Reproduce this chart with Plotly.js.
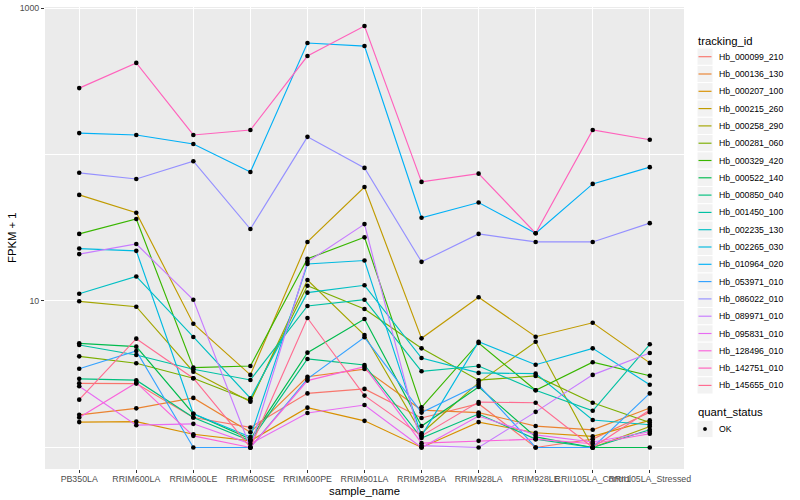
<!DOCTYPE html>
<html>
<head>
<meta charset="utf-8">
<script src="https://cdn.plot.ly/plotly-3.0.1.min.js"></script>
<style>html,body{margin:0;padding:0;background:#fff;}#chart{width:800px;height:500px;}</style>
</head>
<body>
<div id="chart"></div>
<script>
// ---- data (FPKM + 1) ----
const sampleNames = ['PB350LA', 'RRIM600LA', 'RRIM600LE', 'RRIM600SE', 'RRIM600PE', 'RRIM901LA',
  'RRIM928BA', 'RRIM928LA', 'RRIM928LE', 'RRII105LA_Control', 'RRII105LA_Stressed'];

const trackingIds = ['Hb_000099_210', 'Hb_000136_130', 'Hb_000207_100', 'Hb_000215_260', 'Hb_000258_290',
  'Hb_000281_060', 'Hb_000329_420', 'Hb_000522_140', 'Hb_000850_040', 'Hb_001450_100', 'Hb_002235_130',
  'Hb_002265_030', 'Hb_010964_020', 'Hb_053971_010', 'Hb_086022_010', 'Hb_089971_010', 'Hb_095831_010',
  'Hb_128496_010', 'Hb_142751_010', 'Hb_145655_010'];

const Hb_000099_210 = [2.74, 2.73, 1.60, 1.37, 2.34, 2.51, 1.59, 1.99, 1.00, 1.14, 1.74];
const Hb_000136_130 = [1.67, 1.85, 2.18, 1.27, 3.04, 3.43, 1.80, 1.73, 1.40, 1.32, 1.86];
const Hb_000207_100 = [1.49, 1.50, 1.23, 1.11, 1.87, 1.52, 1.00, 1.49, 1.26, 1.19, 1.53];
const Hb_000215_260 = [53, 40, 7.0, 3.13, 25.3, 60, 5.56, 10.6, 5.7, 7.1, 3.78];
const Hb_000258_290 = [9.95, 9.14, 3.29, 2.05, 13.9, 5.86, 1.25, 2.77, 5.27, 1.00, 1.39];
const Hb_000281_060 = [4.19, 3.76, 2.97, 2.09, 12.7, 8.82, 4.75, 2.88, 3.08, 2.02, 1.48];
const Hb_000329_420 = [28.7, 36.3, 3.51, 3.60, 19.4, 27.2, 1.88, 5.17, 2.46, 3.82, 3.09];
const Hb_000522_140 = [5.14, 4.88, 1.70, 1.14, 4.44, 7.54, 1.40, 2.59, 1.18, 1.00, 1.00];
const Hb_000850_040 = [2.94, 2.88, 1.60, 1.11, 4.02, 3.66, 1.16, 1.69, 1.14, 1.00, 1.32];
const Hb_001450_100 = [5.01, 4.28, 3.42, 2.89, 9.25, 10.2, 3.31, 3.60, 2.46, 1.78, 5.06];
const Hb_002235_130 = [11.2, 14.7, 5.68, 2.17, 11.4, 12.8, 4.08, 3.23, 3.19, 1.54, 1.43];
const Hb_002265_030 = [22.8, 22.0, 1.70, 1.18, 17.9, 18.9, 1.20, 5.27, 3.67, 4.75, 2.68];
const Hb_010964_020 = [140, 136, 118, 76, 577, 550, 37, 47, 29, 63, 82];
const Hb_053971_010 = [3.45, 4.56, 1.00, 1.00, 2.94, 5.65, 1.73, 2.67, 1.00, 1.00, 2.34];
const Hb_086022_010 = [75, 68, 90, 31, 132, 81, 18.5, 28.7, 25.3, 25.3, 34];
const Hb_089971_010 = [20.9, 24.5, 10.2, 1.00, 18.5, 33.5, 1.03, 1.00, 1.75, 3.13, 4.42];
const Hb_095831_010 = [2.62, 1.42, 1.45, 1.06, 1.72, 1.95, 1.00, 1.64, 1.22, 1.09, 1.28];
const Hb_128496_010 = [1.60, 2.77, 1.20, 1.00, 2.86, 3.56, 1.07, 1.11, 1.14, 1.06, 1.24];
const Hb_142751_010 = [284, 422, 136, 147, 470, 754, 65, 74, 29, 147, 126];
const Hb_145655_010 = [2.12, 5.53, 2.97, 1.00, 7.65, 2.26, 1.20, 2.04, 2.02, 1.00, 1.80];

const seriesValues = [Hb_000099_210, Hb_000136_130, Hb_000207_100, Hb_000215_260, Hb_000258_290,
  Hb_000281_060, Hb_000329_420, Hb_000522_140, Hb_000850_040, Hb_001450_100, Hb_002235_130,
  Hb_002265_030, Hb_010964_020, Hb_053971_010, Hb_086022_010, Hb_089971_010, Hb_095831_010,
  Hb_128496_010, Hb_142751_010, Hb_145655_010];

const seriesColors = ['#F8766D', '#EA8331', '#D89000', '#C09B00', '#A3A500', '#7CAE00', '#39B600',
  '#00BB4E', '#00BF7D', '#00C1A3', '#00BFC4', '#00BAE0', '#00B0F6', '#35A2FF', '#9590FF', '#C77CFF',
  '#E76BF3', '#FA62DB', '#FF62BC', '#FF6C91'];

const yTickVals = [10, 1000];
const yTickText = ['10', '1000'];
const yMinorVals = [1, 100];
const quantStatus = 'OK';
const legendTitle1 = 'tracking_id';
const legendTitle2 = 'quant_status';
const xTitle = 'sample_name';
const yTitle = 'FPKM + 1';

// ---- geometry of the panel (pixels) ----
const W = 800, H = 500;
const PL = 45, PR = 684, PT = 7, PB = 469;
const px = v => (v - PL) / (PR - PL);
const py = v => (PB - v) / (PB - PT);

const FONT = 'Liberation Sans, Arial, sans-serif';
const traces = [];
trackingIds.forEach((id, i) => {
  traces.push({
    type: 'scatter', mode: 'lines', name: id,
    x: sampleNames, y: seriesValues[i],
    line: {color: seriesColors[i], width: 1.15},
    showlegend: false, hoverinfo: 'name+y'
  });
});
const allX = [], allY = [];
seriesValues.forEach(v => { v.forEach((val, j) => { allX.push(sampleNames[j]); allY.push(val); }); });
traces.push({
  type: 'scatter', mode: 'markers', name: quantStatus,
  x: allX, y: allY,
  marker: {color: '#000000', size: 4.6, symbol: 'circle'},
  showlegend: false
});

// ---- hand-built ggplot-like legend ----
const shapes = [];
const annotations = [];
const KX0 = 697, KX1 = 713, TX = 716.5, ITEM0 = 56.7, STEP = 17.3;
annotations.push({xref: 'paper', yref: 'paper', x: px(695.5), y: py(40.7), xanchor: 'left', yanchor: 'middle',
  text: legendTitle1, showarrow: false, font: {size: 11.3, family: FONT, color: '#000'}});
trackingIds.forEach((id, i) => {
  const cy = ITEM0 + STEP * i;
  shapes.push({type: 'rect', xref: 'paper', yref: 'paper', x0: px(KX0), x1: px(KX1),
    y0: py(cy - STEP / 2), y1: py(cy + STEP / 2), fillcolor: '#F2F2F2', line: {color: '#FFFFFF', width: 1}, layer: 'above'});
  shapes.push({type: 'line', xref: 'paper', yref: 'paper', x0: px(KX0 + 1.5), x1: px(KX1 - 1.5),
    y0: py(cy), y1: py(cy), line: {color: seriesColors[i], width: 1.15}, layer: 'above'});
  annotations.push({xref: 'paper', yref: 'paper', x: px(TX), y: py(cy), xanchor: 'left', yanchor: 'middle',
    text: id, showarrow: false, font: {size: 8.7, family: FONT, color: '#000'}});
});
annotations.push({xref: 'paper', yref: 'paper', x: px(695.5), y: py(412.3), xanchor: 'left', yanchor: 'middle',
  text: legendTitle2, showarrow: false, font: {size: 11.3, family: FONT, color: '#000'}});
shapes.push({type: 'rect', xref: 'paper', yref: 'paper', x0: px(KX0), x1: px(KX1),
  y0: py(429 - STEP / 2), y1: py(429 + STEP / 2), fillcolor: '#F2F2F2', line: {color: '#FFFFFF', width: 1}, layer: 'above'});
shapes.push({type: 'circle', xref: 'paper', yref: 'paper', x0: px(703.3), x1: px(706.7),
  y0: py(427.3), y1: py(430.7), fillcolor: '#000', line: {color: '#000', width: 0.5}, layer: 'above'});
annotations.push({xref: 'paper', yref: 'paper', x: px(TX), y: py(429), xanchor: 'left', yanchor: 'middle',
  text: quantStatus, showarrow: false, font: {size: 8.7, family: FONT, color: '#000'}});

// axis titles
annotations.push({xref: 'paper', yref: 'paper', x: px(364.5), y: py(491), xanchor: 'center', yanchor: 'middle',
  text: xTitle, showarrow: false, font: {size: 11.3, family: FONT, color: '#000'}});
annotations.push({xref: 'paper', yref: 'paper', x: px(12), y: py(238), xanchor: 'center', yanchor: 'middle',
  text: yTitle, textangle: -90, showarrow: false, font: {size: 11.3, family: FONT, color: '#000'}});

const layout = {
  width: W, height: H,
  margin: {l: PL, r: W - PR, t: PT, b: H - PB},
  paper_bgcolor: '#FFFFFF',
  plot_bgcolor: '#EBEBEB',
  font: {family: FONT, color: '#000000'},
  showlegend: false,
  xaxis: {
    type: 'category',
    categoryorder: 'array', categoryarray: sampleNames,
    range: [-0.6, 10.6],
    tickangle: 0,
    tickfont: {size: 8.8, color: '#4D4D4D', family: FONT},
    ticks: 'outside', ticklen: 3, tickcolor: '#333333', tickwidth: 1,
    ticklabelstandoff: -2,
    showgrid: true, gridcolor: '#FFFFFF', gridwidth: 1.1,
    zeroline: false, showline: false, automargin: false
  },
  yaxis: {
    type: 'log',
    range: [-0.147, 3.007],
    tickmode: 'array', tickvals: yTickVals, ticktext: yTickText,
    tickfont: {size: 8.8, color: '#4D4D4D', family: FONT},
    ticks: 'outside', ticklen: 3, tickcolor: '#333333', tickwidth: 1,
    showgrid: true, gridcolor: '#FFFFFF', gridwidth: 1.1,
    minor: {tickmode: 'array', tickvals: yMinorVals, showgrid: true, gridcolor: '#FFFFFF', gridwidth: 0.55, ticks: ''},
    zeroline: false, showline: false, automargin: false
  },
  shapes: shapes,
  annotations: annotations,
  hovermode: 'closest'
};

Plotly.newPlot('chart', traces, layout, {displayModeBar: false, responsive: false});
</script>
</body>
</html>
